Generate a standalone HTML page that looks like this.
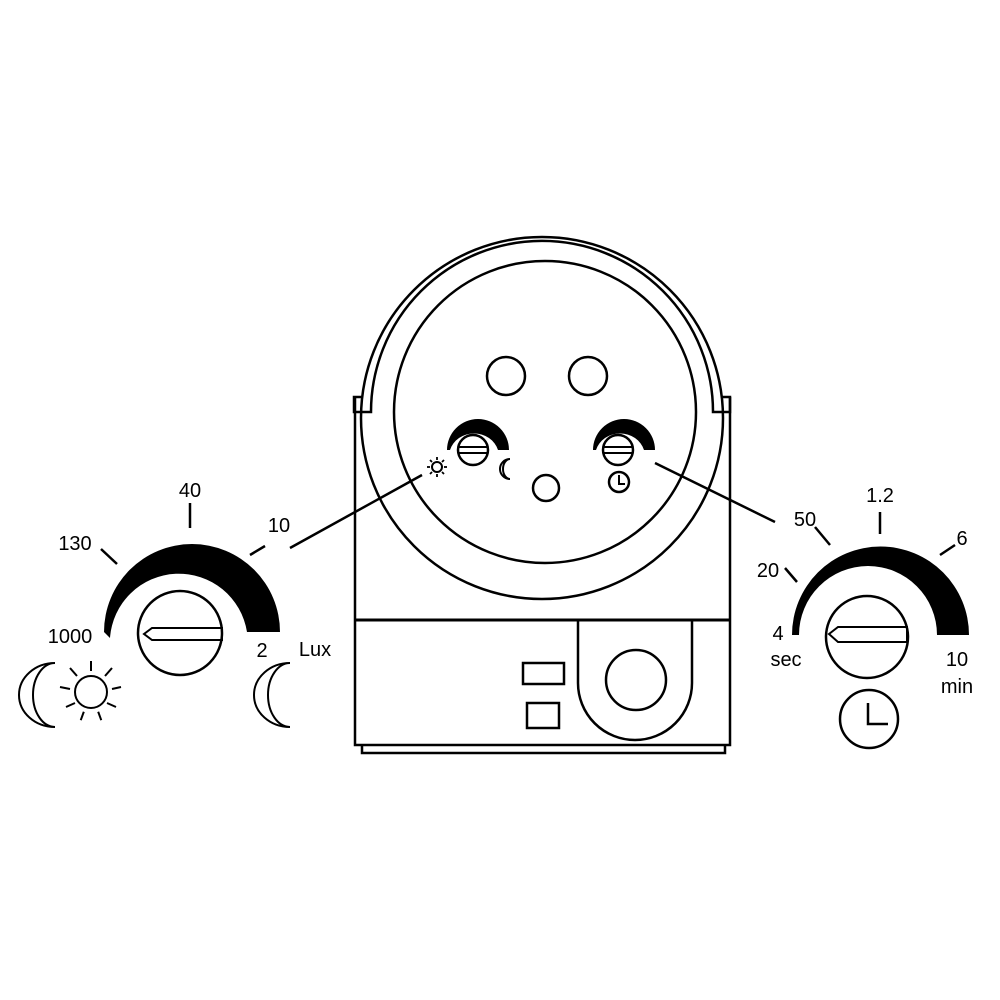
<!DOCTYPE html>
<html><head><meta charset="utf-8"><style>
html,body{margin:0;padding:0;background:#fff}
svg{display:block}
text{font-family:"Liberation Sans",sans-serif;font-size:20px;fill:#000}
</style></head><body>
<svg width="1000" height="1000" viewBox="0 0 1000 1000" xmlns="http://www.w3.org/2000/svg">
<g fill="none" stroke="#000" stroke-width="2.5">
<!-- body -->
<path d="M355 397 L355 745 L730 745 L730 397"/>
<line x1="355" y1="620" x2="730" y2="620" stroke-width="3"/>
<path d="M362 745 L362 753 L725 753 L725 745"/>
<!-- outer big circle -->
<circle cx="542" cy="418" r="181"/>
<!-- collar -->
<path d="M362 397 L354 397 L354 412 L371 412 A171 171 0 1 1 713 412 L730 412 L730 397 L722 397"/>
<!-- face -->
<circle cx="545" cy="412" r="151"/>
<circle cx="506" cy="376" r="19"/>
<circle cx="588" cy="376" r="19"/>
<circle cx="546" cy="488" r="13"/>
<!-- U slot -->
<path d="M578 620 L578 683 A57 57 0 0 0 692 683 L692 620"/>
<circle cx="636" cy="680" r="30"/>
<rect x="523" y="663" width="41" height="21"/>
<rect x="527" y="703" width="32" height="25"/>
<!-- small dial screws -->
<circle cx="473" cy="450" r="15" fill="#fff"/>
<circle cx="618" cy="450" r="15" fill="#fff"/>
<line x1="458" y1="447" x2="488" y2="447" stroke-width="2"/>
<line x1="458" y1="453" x2="488" y2="453" stroke-width="2"/>
<line x1="603" y1="447" x2="633" y2="447" stroke-width="2"/>
<line x1="603" y1="453" x2="633" y2="453" stroke-width="2"/>
<circle cx="619" cy="482" r="10"/>
<path d="M619 475 L619 484 L625 484" stroke-width="2"/>
<!-- small sun -->
<circle cx="437" cy="467" r="5" stroke-width="2"/>
<g stroke-width="1.8">
<line x1="437" y1="457" x2="437" y2="460"/><line x1="437" y1="474" x2="437" y2="477"/>
<line x1="427" y1="467" x2="430" y2="467"/><line x1="444" y1="467" x2="447" y2="467"/>
<line x1="430" y1="460" x2="432" y2="462"/><line x1="442" y1="472" x2="444" y2="474"/>
<line x1="444" y1="460" x2="442" y2="462"/><line x1="430" y1="474" x2="432" y2="472"/>
</g>
<path d="M510 459 A10 10 0 0 0 510 479 A7 10 0 0 1 510 459" stroke-width="2"/>
<!-- leaders -->
<line x1="290" y1="548" x2="422" y2="475"/>
<line x1="655" y1="463" x2="775" y2="522"/>
<!-- left dial knob -->
<circle cx="180" cy="633" r="42"/>
<path d="M222 628 L152 628 L144 634 L152 640 L222 640 Z" stroke-width="2"/>
<!-- right dial knob -->
<circle cx="867" cy="637" r="41"/>
<path d="M907 627 L838 627 L829 634 L838 642 L907 642 Z" stroke-width="2"/>
<circle cx="869" cy="719" r="29"/>
<path d="M868 703 L868 724 L888 724"/>
<!-- ticks -->
<line x1="190" y1="503" x2="190" y2="528"/>
<line x1="101" y1="549" x2="117" y2="564"/>
<line x1="250" y1="555" x2="265" y2="546"/>
<line x1="880" y1="512" x2="880" y2="534"/>
<line x1="815" y1="527" x2="830" y2="545"/>
<line x1="785" y1="568" x2="797" y2="582"/>
<line x1="940" y1="555" x2="955" y2="545"/>
<!-- moons / sun bottom-left -->
<path d="M55 663 A36 32 0 0 0 55 727 A22 32 0 0 1 55 663" stroke-width="2"/>
<path d="M290 663 A36 32 0 0 0 290 727 A22 32 0 0 1 290 663" stroke-width="2"/>
<circle cx="91" cy="692" r="16" stroke-width="2"/>
<g stroke-width="2">
<line x1="91" y1="661" x2="91" y2="671"/>
<line x1="91" y1="713" x2="91" y2="722" transform="rotate(20 91 692)"/>
<line x1="91" y1="713" x2="91" y2="722" transform="rotate(-20 91 692)"/>
<line x1="60" y1="687" x2="70" y2="689"/>
<line x1="112" y1="689" x2="121" y2="687"/>
<line x1="66" y1="707" x2="75" y2="703"/>
<line x1="107" y1="703" x2="116" y2="707"/>
<line x1="70" y1="668" x2="77" y2="676"/>
<line x1="105" y1="676" x2="112" y2="668"/>
</g>
</g>
<!-- filled arcs -->
<g fill="#000" stroke="none">
<path d="M104 632 A88 88 0 0 1 280 632 L247 632 A69 69 0 0 0 110 638 Z"/>
<path d="M792 635 A88.5 88.5 0 0 1 969 635 L937 635 A69 69 0 0 0 799 635 Z"/>
<path d="M447 450 A31 31 0 0 1 509 450 L498 450 A25 23 0 0 0 450 450 Z"/>
<path d="M593 450 A31 31 0 0 1 655 450 L644 450 A25 23 0 0 0 596 450 Z"/>
</g>
<!-- labels -->
<text x="190" y="497" text-anchor="middle">40</text>
<text x="75" y="550" text-anchor="middle">130</text>
<text x="279" y="532" text-anchor="middle">10</text>
<text x="70" y="643" text-anchor="middle">1000</text>
<text x="262" y="657" text-anchor="middle">2</text>
<text x="315" y="656" text-anchor="middle">Lux</text>
<text x="880" y="502" text-anchor="middle">1.2</text>
<text x="805" y="526" text-anchor="middle">50</text>
<text x="768" y="577" text-anchor="middle">20</text>
<text x="962" y="545" text-anchor="middle">6</text>
<text x="778" y="640" text-anchor="middle">4</text>
<text x="786" y="666" text-anchor="middle">sec</text>
<text x="957" y="666" text-anchor="middle">10</text>
<text x="957" y="693" text-anchor="middle">min</text>
</svg>
</body></html>
